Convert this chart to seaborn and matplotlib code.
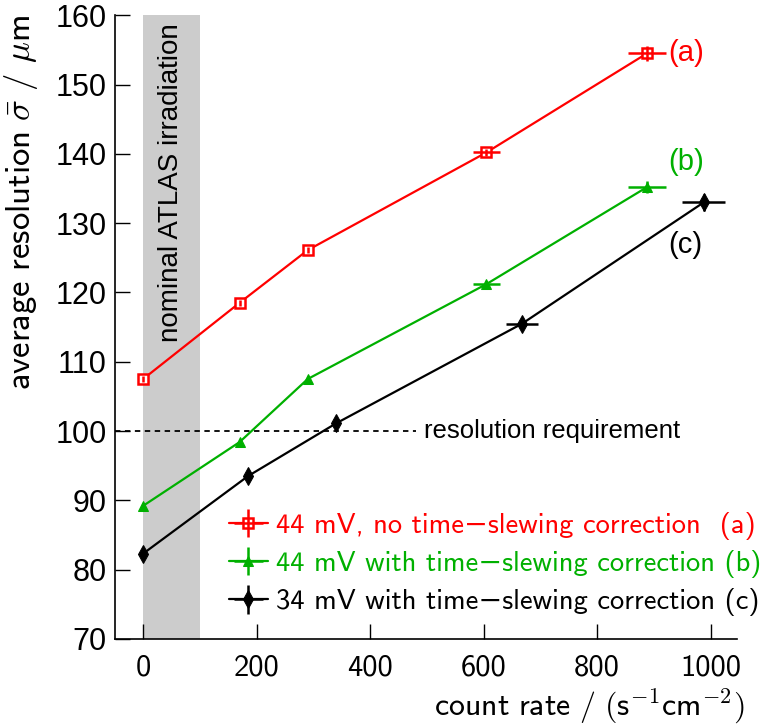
import numpy as np
import pandas as pd
import seaborn as sns
import matplotlib.pyplot as plt
from matplotlib.legend_handler import HandlerTuple

# Data
rate_a = [0, 170, 290, 605, 888]
res_a = [107.5, 118.5, 126.1, 140.2, 154.5]
xerr_a = [0, 0, 0, 24, 34]
yerr_a = [0.4, 0.4, 0.4, 0.5, 1.1]

rate_b = [0, 170, 290, 605, 888]
res_b = [89.2, 98.4, 107.5, 121.2, 135.2]
xerr_b = [0, 0, 0, 24, 34]
yerr_b = [0.4, 0.4, 0.4, 0.5, 0.9]

rate_c = [0, 185, 340, 668, 988]
res_c = [82.3, 93.5, 101.1, 115.5, 133.0]
xerr_c = [0, 0, 0, 28, 38]
yerr_c = [0.6, 0.6, 0.8, 0.8, 1.2]

labels = ['44 mV, no time\u2212slewing correction  (a)',
          '44 mV with time\u2212slewing correction (b)',
          '34 mV with time\u2212slewing correction (c)']
tags = ['(a)', '(b)', '(c)']
tag_pos = [(925, 154.6), (925, 138.8), (925, 126.8)]
colors = ['#ff0000', '#00b000', '#000000']
markers = ['s', '^', 'd']
xticks = [0, 200, 400, 600, 800, 1000]
yticks = [70, 80, 90, 100, 110, 120, 130, 140, 150, 160]

band = (0, 100)
requirement = 100

sns.set_theme(style='ticks')
plt.rcParams['font.family'] = ['Liberation Sans', 'DejaVu Sans']
plt.rcParams['mathtext.fontset'] = 'cm'
plt.rcParams['axes.unicode_minus'] = False
for k in ['text.color', 'axes.labelcolor', 'xtick.color', 'ytick.color']:
    plt.rcParams[k] = 'black'
cmss = ['cmss10', 'DejaVu Sans']

fig = plt.figure(figsize=(7.65, 7.26), dpi=100)
ax = fig.add_axes([0.150, 0.120, 0.813, 0.859])

ax.axvspan(band[0], band[1], color='#cccccc', lw=0, zorder=0)
ax.text(50, 158.8, 'nominal ATLAS irradiation', rotation=90, ha='center', va='top',
        fontsize=20, color='black')

ax.plot([-50, 480], [requirement, requirement], ls=(0, (3, 2.5)), color='black', lw=1.3)
ax.text(495, requirement, 'resolution requirement', va='center', ha='left', fontsize=18.5)

series = [(rate_a, res_a, xerr_a, yerr_a), (rate_b, res_b, xerr_b, yerr_b),
          (rate_c, res_c, xerr_c, yerr_c)]
handles = []
for (x, y, xe, ye), col, mk in zip(series, colors, markers):
    df = pd.DataFrame({'rate': x, 'res': y})
    if mk == 's':
        mkw = dict(markersize=6.5, markerfacecolor='white', markeredgecolor=col, markeredgewidth=1.8)
    elif mk == '^':
        mkw = dict(markersize=7.5, markerfacecolor=col, markeredgecolor=col)
    else:
        mkw = dict(markersize=9, markerfacecolor=col, markeredgecolor=col)
    sns.lineplot(data=df, x='rate', y='res', color=col, lw=1.6, marker=mk, ax=ax,
                 legend=False, **mkw)
    line = ax.lines[-1]
    eb = ax.errorbar(x, y, xerr=xe, yerr=ye, fmt='none', ecolor=col, elinewidth=1.8, capsize=0)
    handles.append((line, eb))

for t, (tx, ty), col in zip(tags, tag_pos, colors):
    ax.text(tx, ty, t, color=col, fontsize=21, va='center', ha='left')

leg = ax.legend(handles, labels, handler_map={tuple: HandlerTuple(ndivide=1)},
                loc='lower right', bbox_to_anchor=(1.058, 0.018), frameon=False,
                handlelength=1.35, handletextpad=0.3, labelspacing=0.36,
                prop={'family': cmss, 'size': 20.5}, borderaxespad=0.0)
for txt, col in zip(leg.get_texts(), colors):
    txt.set_color(col)

ax.set_xlim(-50, 1046)
ax.set_ylim(70, 160)
ax.set_xticks(xticks)
ax.set_xticklabels([str(v) for v in xticks], family=cmss)
ax.set_yticks(yticks)
sns.despine(ax=ax)
for s in ['left', 'bottom']:
    ax.spines[s].set_linewidth(1.2)
    ax.spines[s].set_color('black')
ax.tick_params(axis='both', direction='in', length=11, width=1.0, color='black')
ax.tick_params(axis='y', labelsize=22, pad=6)
ax.tick_params(axis='x', labelsize=22, pad=11)

ax.set_xlabel(r'$\mathsf{count\ rate\ /\ (s^{-1}cm^{-2})}$', fontsize=23, ha='right')
ax.xaxis.set_label_coords(1.013, -0.077)
ax.set_ylabel(r'$\mathsf{average\ resolution}\ \bar{\sigma}\ \mathsf{/}\ \mu\mathsf{m}$',
              fontsize=25, ha='right')
ax.yaxis.set_label_coords(-0.12, 1.0)

fig.savefig('out.png', dpi=100)
